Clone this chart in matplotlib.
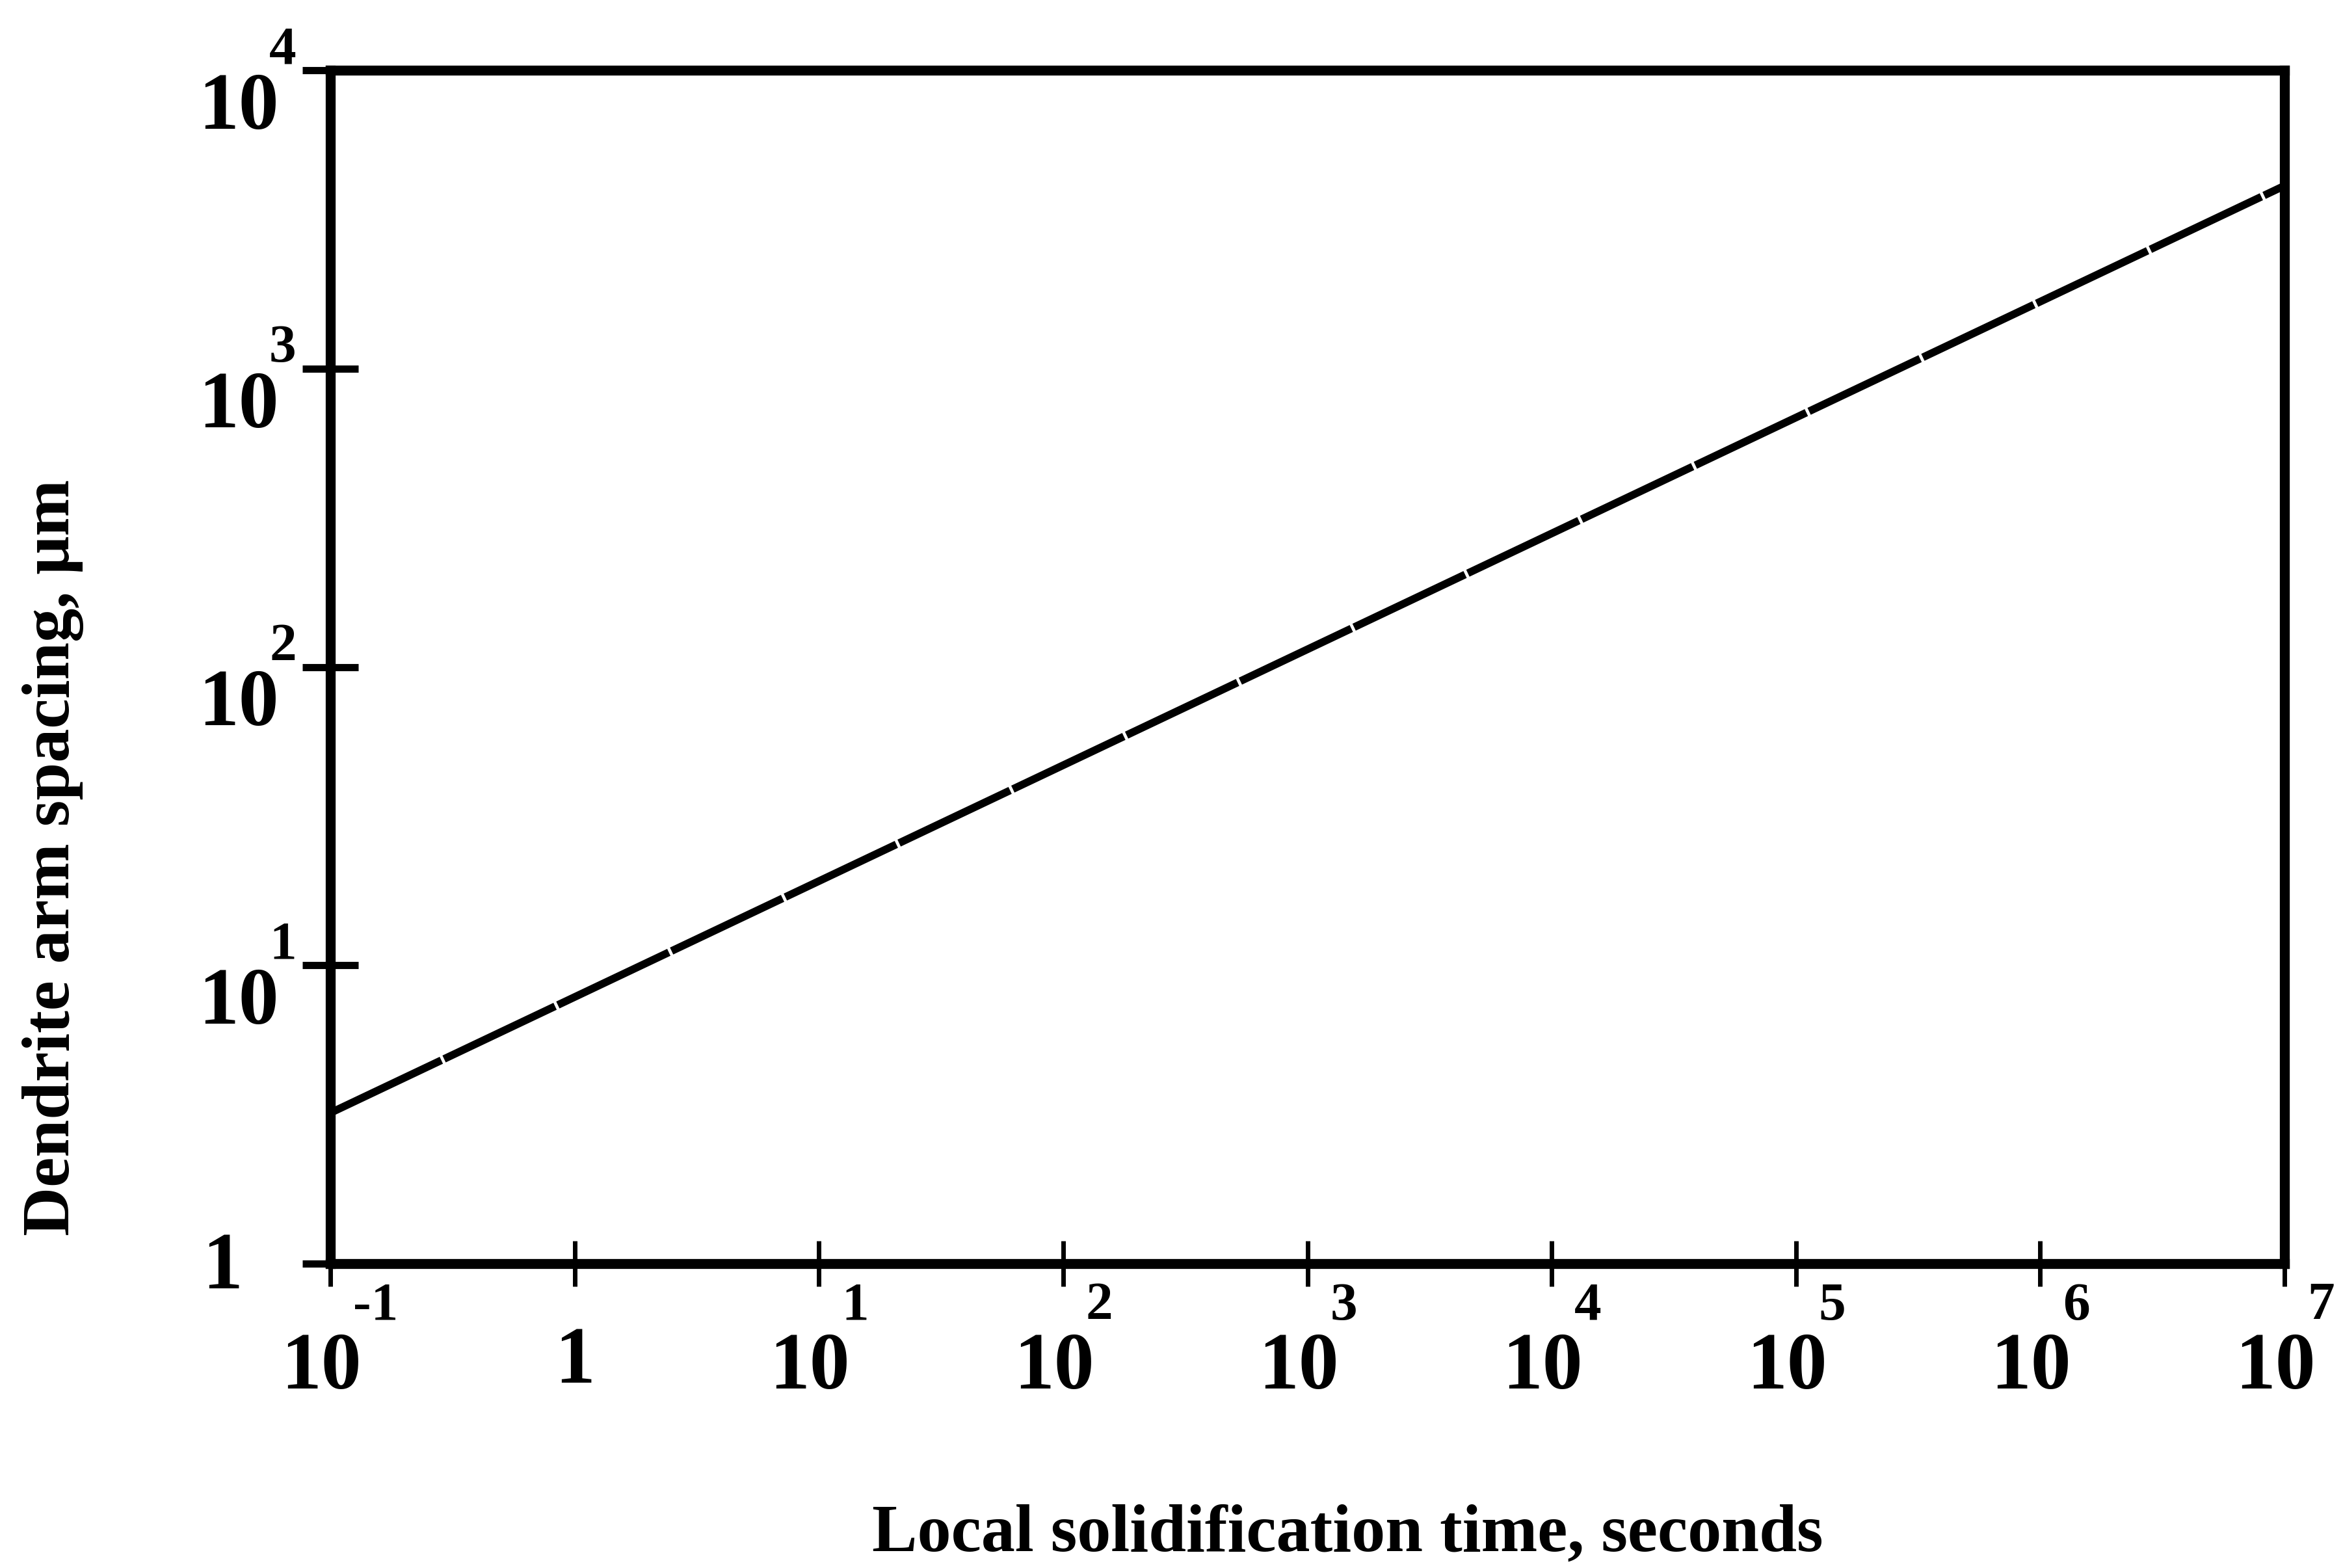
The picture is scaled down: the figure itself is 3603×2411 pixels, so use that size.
import matplotlib
matplotlib.use('Agg')
import matplotlib.pyplot as plt
from matplotlib.transforms import blended_transform_factory, offset_copy

# dendrite arm spacing vs local solidification time (straight line on log-log)
times = [1e-1, 1e7]
spacing = [3.2, 4100]

xticks = [1e-1, 1, 1e1, 1e2, 1e3, 1e4, 1e5, 1e6, 1e7]
xtick_base = ['10', '1', '10', '10', '10', '10', '10', '10', '10']
xtick_exp = ['-1', '', '1', '2', '3', '4', '5', '6', '7']

yticks = [1, 1e1, 1e2, 1e3, 1e4]
ytick_base = ['1', '10', '10', '10', '10']
ytick_exp = ['', '1', '2', '3', '4']

xlabel = 'Local solidification time, seconds'
ylabel = 'Dendrite arm spacing, \u03bcm'

plt.rcParams['font.family'] = 'Liberation Serif'

fig = plt.figure(figsize=(36.03, 24.11), dpi=100)
ax = fig.add_axes([508 / 3603, 468 / 2411, 3005 / 3603, 1835 / 2411])

ax.plot(times, spacing, color='black', lw=8.5, linestyle=(0, (16, 0.4)),
        solid_capstyle='butt')

ax.set_xscale('log')
ax.set_yscale('log')
ax.set_xlim(1e-1, 1e7)
ax.set_ylim(1, 1e4)

for s in ax.spines.values():
    s.set_linewidth(11)
    s.set_color('black')
    s.set_capstyle('projecting')

ax.minorticks_off()
ax.set_xticks(xticks)
ax.set_yticks(yticks)
ax.set_xticklabels([])
ax.set_yticklabels([])
ax.tick_params(axis='y', direction='inout', length=62, width=8, color='black')
ax.tick_params(axis='x', direction='inout', length=50, width=5, color='black')

big = 89
small = 60

# x tick labels: "10" with a raised exponent
xt = blended_transform_factory(ax.transData, ax.transAxes)
for v, b, e in zip(xticks, xtick_base, xtick_exp):
    if e:
        ax.text(v, 0, b, fontsize=big, fontweight='bold', ha='center', va='center',
                transform=offset_copy(xt, fig, x=-14, y=-162, units='dots'))
        ax.text(v, 0, e, fontsize=small, fontweight='bold', ha='left', va='center',
                transform=offset_copy(xt, fig, x=35, y=-66, units='dots'))
    else:
        ax.text(v, 0, b, fontsize=big, fontweight='bold', ha='center', va='center',
                transform=offset_copy(xt, fig, x=0, y=-153, units='dots'))

# y tick labels
yt = blended_transform_factory(ax.transAxes, ax.transData)
for v, b, e in zip(yticks, ytick_base, ytick_exp):
    if e:
        ax.text(0, v, b, fontsize=big, fontweight='bold', ha='left', va='center',
                transform=offset_copy(yt, fig, x=-203, y=-60, units='dots'))
        ax.text(0, v, e, fontsize=small, fontweight='bold', ha='left', va='center',
                transform=offset_copy(yt, fig, x=-94, y=30, units='dots'))
    else:
        ax.text(0, v, b, fontsize=big, fontweight='bold', ha='left', va='center',
                transform=offset_copy(yt, fig, x=-197, y=-8, units='dots'))

fig.text(2072 / 3603, 1 - 2360 / 2411, xlabel, fontsize=75, fontweight='bold',
         ha='center', va='center')
fig.text(82 / 3603, 1 - 1319 / 2411, ylabel, fontsize=75, fontweight='bold',
         ha='center', va='center', rotation=90)

fig.savefig('out.png', dpi=100, facecolor='white')
